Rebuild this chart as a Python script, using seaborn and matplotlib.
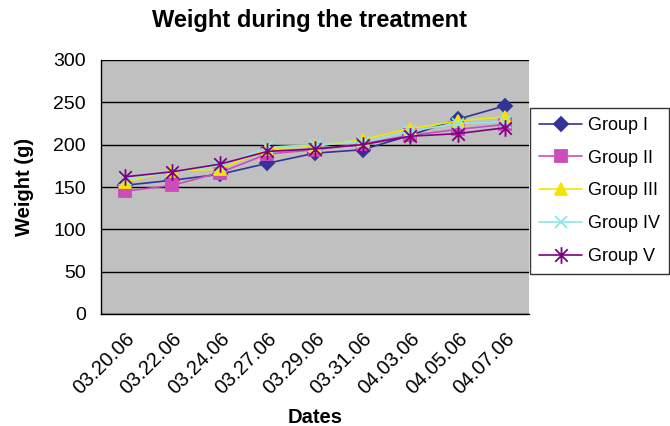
import numpy as np
import pandas as pd
import seaborn as sns
import matplotlib
matplotlib.use("Agg")
import matplotlib.pyplot as plt
from matplotlib.path import Path
from matplotlib.ticker import FixedLocator, NullFormatter

dates = ["03.20.06", "03.22.06", "03.24.06", "03.27.06", "03.29.06",
         "03.31.06", "04.03.06", "04.05.06", "04.07.06"]
groups = ["Group I", "Group II", "Group III", "Group IV", "Group V"]

group_1 = [152, 158, 165, 178, 190, 194, 211, 230, 246]
group_2 = [145, 152, 167, 189, 194, 201, 211, 218, 224]
group_3 = [156, 169, 171, 195, 198, 206, 219, 228, 233]
group_4 = [159, 168, 175, 197, 200, 203, 216, 225, 227]
group_5 = [162, 168, 177, 192, 195, 200, 210, 213, 220]

# asterisk marker: a vertical bar crossed by an X
star = Path([(0, -1), (0, 1), (-0.75, -0.75), (0.75, 0.75),
             (-0.75, 0.75), (0.75, -0.75)],
            [Path.MOVETO, Path.LINETO, Path.MOVETO, Path.LINETO,
             Path.MOVETO, Path.LINETO])

colors = ["#333399", "#CC4CBB", "#F2E600", "#8FE6E6", "#800080"]
markers = ["D", "s", "^", "x", star]
sizes = [7.5, 8, 9, 8, 12]

series = [group_1, group_2, group_3, group_4, group_5]
df = pd.DataFrame({
    "pos": np.tile(np.arange(len(dates)), len(groups)),
    "weight": np.concatenate(series),
    "group": np.repeat(groups, len(dates)),
})

sns.set_style("white")
plt.rcParams["font.family"] = ["Liberation Sans", "DejaVu Sans"]
plt.rcParams["text.color"] = "black"
plt.rcParams["axes.labelcolor"] = "black"
plt.rcParams["xtick.color"] = "black"
plt.rcParams["ytick.color"] = "black"

fig = plt.figure(figsize=(6.7, 4.26), dpi=100)
ax = fig.add_axes([101 / 670, 1 - 314 / 426, 428 / 670, 254 / 426])
ax.set_facecolor("#C0C0C0")

for g, c, m, s in zip(groups, colors, markers, sizes):
    sub = df[df["group"] == g]
    sns.lineplot(data=sub, x="pos", y="weight", ax=ax, color=c, marker=m,
                 markersize=s, markeredgecolor=c, markerfacecolor=c,
                 markeredgewidth=1.3, linewidth=1.2, label=g, zorder=3)

ax.set_xlim(-0.5, len(dates) - 0.5)
ax.set_ylim(0, 300)
ax.set_yticks(np.arange(0, 301, 50))
ax.yaxis.grid(True, color="black", linewidth=1.0)
ax.set_axisbelow(True)

ax.set_xticks(np.arange(len(dates)))
ax.set_xticklabels(dates, rotation=45, ha="right", rotation_mode="anchor",
                   fontsize=14.5)
ax.xaxis.set_minor_locator(FixedLocator(np.arange(-0.5, len(dates), 1.0)))
ax.xaxis.set_minor_formatter(NullFormatter())
ax.tick_params(axis="x", which="major", length=0, pad=11)
ax.tick_params(axis="x", which="minor", length=6, width=1, color="black",
               direction="out")
ax.tick_params(axis="y", length=7, width=1, color="black", direction="out",
               labelsize=14, pad=4)

for side in ["top", "right"]:
    ax.spines[side].set_visible(False)
for side in ["left", "bottom"]:
    ax.spines[side].set_color("black")
    ax.spines[side].set_linewidth(1.0)

ax.set_xlabel("Dates", fontsize=14.5, fontweight="bold", labelpad=7)
ax.set_ylabel("Weight (g)", fontsize=14.5, fontweight="bold", labelpad=14)
fig.text(310 / 670, 1 - 21 / 426, "Weight during the treatment",
         ha="center", va="center", fontsize=17, fontweight="bold")

leg = ax.legend(loc="upper left", bbox_to_anchor=(530 / 670, 1 - 108 / 426),
                bbox_transform=fig.transFigure, frameon=True, fancybox=False,
                edgecolor="black", fontsize=13, handlelength=2.4,
                borderpad=0.5, labelspacing=0.87, handletextpad=0.3,
                borderaxespad=0)
leg.get_frame().set_linewidth(1.0)

fig.savefig("out.png", dpi=100, facecolor="white")
